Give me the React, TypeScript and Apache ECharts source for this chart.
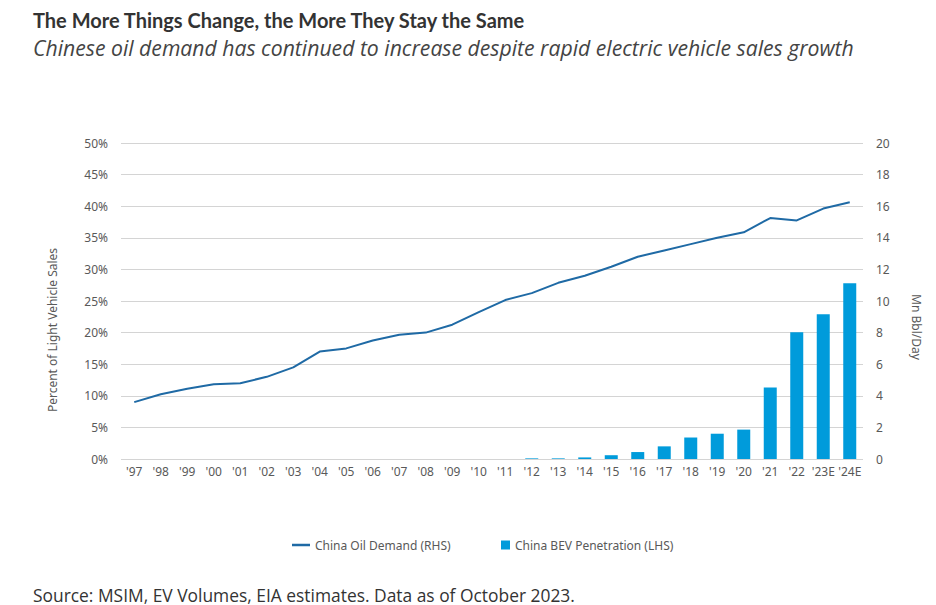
import React, { useEffect, useRef } from "react";
import * as echarts from "echarts";

const years = ["'97", "'98", "'99", "'00", "'01", "'02", "'03", "'04", "'05", "'06", "'07", "'08", "'09", "'10", "'11", "'12", "'13", "'14", "'15", "'16", "'17", "'18", "'19", "'20", "'21", "'22", "'23E", "'24E"];
const oilDemand = [3.6, 4.1, 4.45, 4.73, 4.8, 5.2, 5.8, 6.8, 7.0, 7.5, 7.87, 8.0, 8.5, 9.3, 10.06, 10.5, 11.15, 11.6, 12.17, 12.8, 13.2, 13.6, 14.0, 14.35, 15.25, 15.1, 15.85, 16.25];
const bevPenetration = [0, 0, 0, 0, 0, 0, 0, 0, 0, 0, 0, 0, 0, 0, 0, 0.1, 0.1, 0.25, 0.6, 1.1, 2.0, 3.4, 4.0, 4.65, 11.3, 20.05, 22.9, 27.8];

const title = "The More Things Change, the More They Stay the Same";
const subtitle = "Chinese oil demand has continued to increase despite rapid electric vehicle sales growth";
const source = "Source: MSIM, EV Volumes, EIA estimates. Data as of October 2023.";
const leftName = "Percent of Light Vehicle Sales";
const rightName = "Mn Bbl/Day";
const oilName = "China Oil Demand (RHS)";
const bevName = "China BEV Penetration (LHS)";

export default function App() {
  const ref = useRef<HTMLDivElement>(null);
  useEffect(() => {
    if (!ref.current) return;
    const chart = echarts.init(ref.current, null, { renderer: "svg" });
    const axisFont = { fontFamily: "Noto Sans", fontSize: 12, color: "#595959" };
    const legendText = { fontFamily: "Noto Sans", fontSize: 12, color: "#595959" };
    chart.setOption({
      animation: false,
      backgroundColor: "#ffffff",
      title: [
        {
          text: title,
          left: 33,
          top: 10,
          padding: 0,
          textStyle: { fontFamily: "Lato", fontSize: 20, fontWeight: "bold", color: "#333333" },
        },
        {
          text: subtitle,
          left: 33,
          top: 37,
          padding: 0,
          textStyle: { fontFamily: "Open Sans", fontSize: 21.2, fontStyle: "italic", fontWeight: "normal", color: "#444444" },
        },
        {
          text: source,
          left: 33,
          top: 586,
          padding: 0,
          textStyle: { fontFamily: "Open Sans", fontSize: 17.4, fontWeight: "normal", color: "#333333" },
        },
      ],
      graphic: [
        {
          type: "text",
          x: 52,
          y: 330,
          rotation: Math.PI / 2,
          style: { text: leftName, fill: "#595959", font: "12px 'Noto Sans'", align: "center", verticalAlign: "middle" },
        },
        {
          type: "text",
          x: 916,
          y: 327,
          rotation: -Math.PI / 2,
          style: { text: rightName, fill: "#595959", font: "12px 'Noto Sans'", align: "center", verticalAlign: "middle" },
        },
      ],
      legend: [
        {
          top: 534,
          left: 287,
          itemWidth: 18,
          itemHeight: 2.5,
          itemGap: 10,
          textStyle: legendText,
          data: [{ name: oilName, icon: "rect" }],
        },
        {
          top: 534,
          left: 496,
          itemWidth: 9,
          itemHeight: 9,
          textStyle: legendText,
          data: [{ name: bevName, icon: "rect" }],
        },
      ],
      grid: { left: 121, right: 73, top: 143, bottom: 146 },
      xAxis: {
        type: "category",
        data: years,
        boundaryGap: true,
        axisLine: { show: false },
        axisTick: { show: false },
        axisLabel: { ...axisFont, margin: 6, interval: 0 },
      },
      yAxis: [
        {
          type: "value",
          min: 0,
          max: 50,
          interval: 5,
          axisLabel: { ...axisFont, formatter: "{value}%", margin: 13 },
          axisLine: { show: false },
          axisTick: { show: false },
          splitLine: { lineStyle: { color: "#d4d4d4", width: 1 } },
        },
        {
          type: "value",
          min: 0,
          max: 20,
          interval: 2,
          position: "right",
          axisLabel: { ...axisFont, margin: 13 },
          axisLine: { show: false },
          axisTick: { show: false },
          splitLine: { show: false },
        },
      ],
      series: [
        {
          name: oilName,
          type: "line",
          yAxisIndex: 1,
          data: oilDemand,
          symbol: "none",
          lineStyle: { color: "#1f6aa5", width: 2 },
          itemStyle: { color: "#1f6aa5" },
          z: 3,
        },
        {
          name: bevName,
          type: "bar",
          yAxisIndex: 0,
          data: bevPenetration,
          barWidth: 13,
          itemStyle: { color: "#009bdb" },
          z: 2,
        },
      ],
    });
    return () => chart.dispose();
  }, []);
  return <div ref={ref} style={{ position: "fixed", left: 0, top: 0, width: 936, height: 605 }} />;
}
